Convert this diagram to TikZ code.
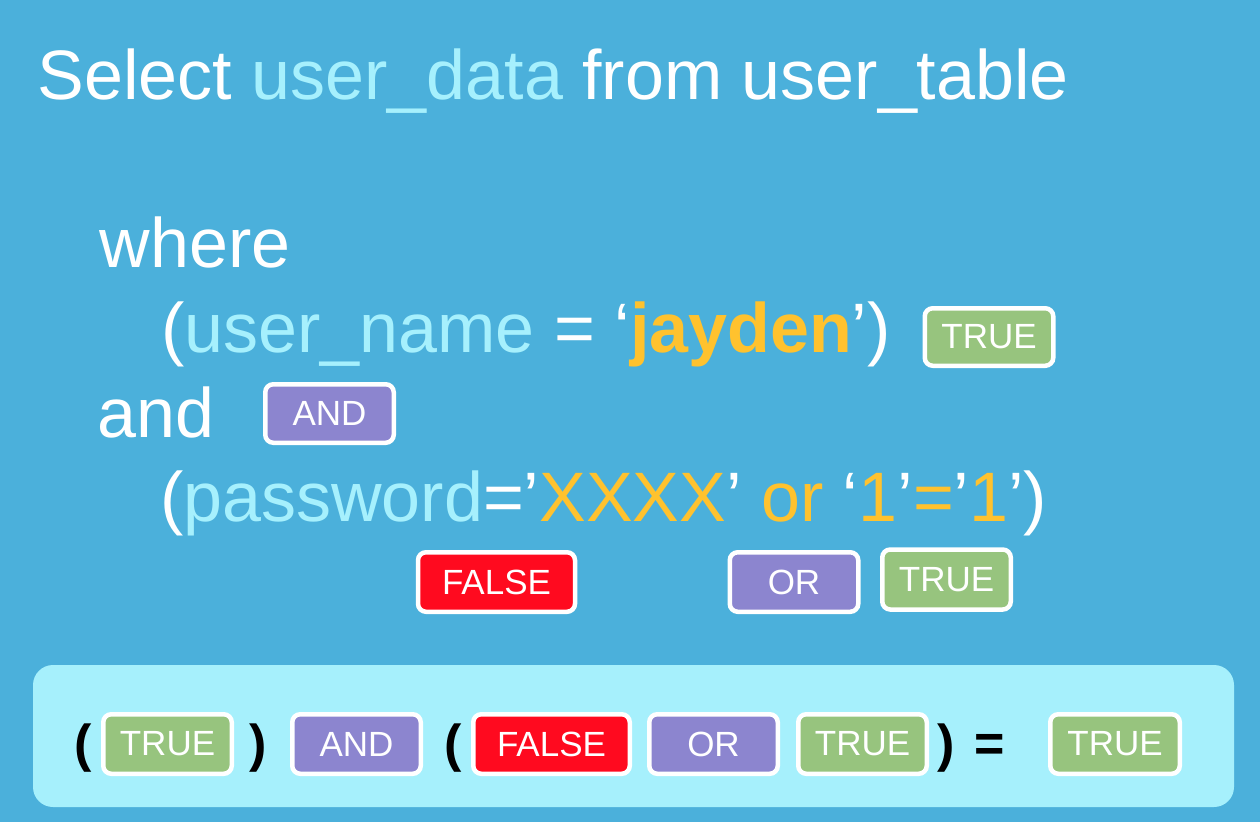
\documentclass[tikz,border=0pt]{standalone}
\usepackage{fontspec}
\setmainfont{Liberation Sans}
\definecolor{bgblue}{HTML}{4BB0DB}
\definecolor{cyantxt}{HTML}{A6F0FD}
\definecolor{orangetxt}{HTML}{FFC22E}
\definecolor{truegreen}{HTML}{97C47E}
\definecolor{andpurple}{HTML}{8C85CF}
\definecolor{falsered}{HTML}{FF0A1F}
\definecolor{panelcyan}{HTML}{A6F0FC}
\tikzset{
  codeline/.style={anchor=base west, inner sep=0pt, text=white, font=\fontsize{70}{84}\selectfont},
  tag/.style={rounded corners=8pt, draw=white, line width=4.5pt, text=white,
    font=\fontsize{35}{42}\selectfont, inner sep=0pt, minimum height=57.5pt, minimum width=128.5pt},
  truetag/.style={tag, fill=truegreen},
  andtag/.style={tag, fill=andpurple},
  falsetag/.style={tag, fill=falsered, minimum width=157pt},
  paren/.style={anchor=base, inner sep=0pt, text=black, font=\fontsize{52}{60}\selectfont\bfseries}
}
\begin{document}
\begin{tikzpicture}[x=1pt,y=-1pt]
\useasboundingbox (0,0) rectangle (1260,822);
\fill[bgblue] (0,0) rectangle (1260,822);
\node[codeline] (title) at (37.5,99) {Select \textcolor{cyantxt}{user\_data} from user\_table};
\node[codeline] (where) at (99.5,267) {where};
\node[codeline] (uname) at (161,352) {(\textcolor{cyantxt}{user\_name} = ‘\textcolor{orangetxt}{\bfseries jayden}’)};
\node[codeline] (and) at (97.5,437) {and};
\node[codeline] (pwd) at (160,521) {(\textcolor{cyantxt}{password}=’\textcolor{orangetxt}{XXXX}’\ \textcolor{orangetxt}{or}\ ‘\textcolor{orangetxt}{1}’\textcolor{orangetxt}{=}’\textcolor{orangetxt}{1}’)};

\node[truetag] (t1) at (989,337) {TRUE};
\node[andtag, minimum height=58.5pt] (a1) at (329.5,413.5) {AND};
\node[falsetag, minimum height=59.5pt] (f1) at (496.5,582) {FALSE};
\node[andtag, minimum height=59.5pt] (o1) at (794,582) {OR};
\node[truetag, minimum height=60pt] (t2) at (946.5,579.5) {TRUE};

\fill[panelcyan, rounded corners=20pt] (33,665) rectangle (1234,807);
\node[paren] (p1) at (83,761) {(};
\node[truetag, minimum height=59.5pt] (bt1) at (167.5,744) {TRUE};
\node[paren] (p2) at (258,761) {)};
\node[andtag, minimum height=59.5pt] (ba) at (356.5,744) {AND};
\node[paren] (p3) at (453,761) {(};
\node[falsetag, minimum height=59.5pt, minimum width=156.5pt] (bf) at (551.5,744) {FALSE};
\node[andtag, minimum height=59.5pt] (bo) at (713.5,744) {OR};
\node[truetag, minimum height=59.5pt] (bt2) at (862.5,744) {TRUE};
\node[paren] (p4) at (946,761) {)};
\node[paren] (eq) at (990,761) {=};
\node[truetag, minimum height=59.5pt, minimum width=129.5pt] (bt3) at (1115,744) {TRUE};
\end{tikzpicture}
\end{document}
